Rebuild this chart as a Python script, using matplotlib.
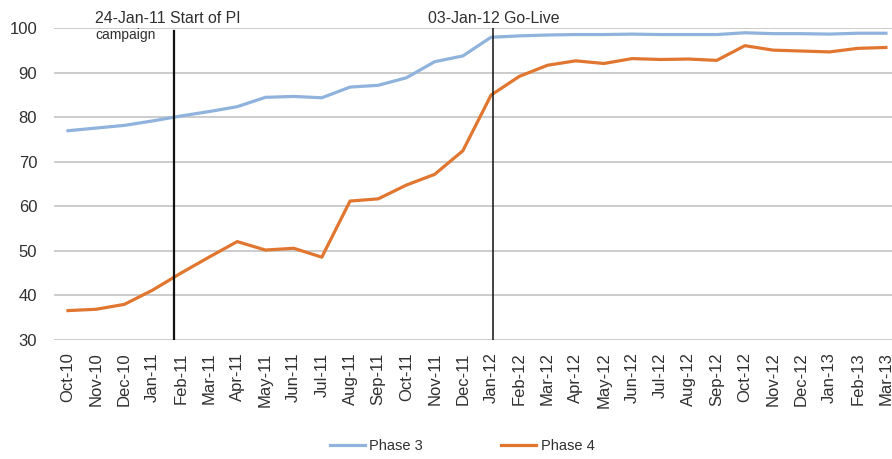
import numpy as np
import matplotlib.pyplot as plt
import matplotlib.transforms as mtransforms

plt.rcParams['font.family'] = ['Liberation Sans', 'DejaVu Sans']

months = ['Oct-10', 'Nov-10', 'Dec-10', 'Jan-11', 'Feb-11', 'Mar-11', 'Apr-11', 'May-11',
          'Jun-11', 'Jul-11', 'Aug-11', 'Sep-11', 'Oct-11', 'Nov-11', 'Dec-11', 'Jan-12',
          'Feb-12', 'Mar-12', 'Apr-12', 'May-12', 'Jun-12', 'Jul-12', 'Aug-12', 'Sep-12',
          'Oct-12', 'Nov-12', 'Dec-12', 'Jan-13', 'Feb-13', 'Mar-13']

phase3 = [77.0, 77.6, 78.2, 79.2, 80.3, 81.3, 82.4, 84.5, 84.7, 84.4,
          86.8, 87.2, 88.9, 92.5, 93.8, 98.0, 98.3, 98.5, 98.6, 98.6,
          98.7, 98.6, 98.6, 98.6, 99.0, 98.8, 98.8, 98.7, 98.9, 98.9]

phase4 = [36.6, 36.9, 38.0, 41.2, 45.0, 48.6, 52.1, 50.2, 50.6, 48.6,
          61.2, 61.7, 64.8, 67.2, 72.5, 85.0, 89.2, 91.7, 92.7, 92.1,
          93.2, 93.0, 93.1, 92.8, 96.1, 95.1, 94.9, 94.7, 95.5, 95.7]

# events: month index + fraction of month
event_labels = ['24-Jan-11 Start of PI', '03-Jan-12 Go-Live']
event_sub = ['campaign', '']
event_pos = [3 + 24 / 31, 15 + 2 / 31]

fig = plt.figure(figsize=(8.92, 4.59), dpi=100)
ax = fig.add_axes([0.0604, 0.2593, 0.9486, 0.679])

x = np.arange(len(months))
ax.plot(x, phase3, color='#8fb3dc', lw=2.3, label='Phase 3', solid_joinstyle='round')
ax.plot(x, phase4, color='#e0762f', lw=2.3, label='Phase 4', solid_joinstyle='round')

ax.set_ylim(30, 100)
ax.set_xlim(-0.5, len(months) - 0.5)
ax.set_yticks(range(30, 101, 10))
ax.yaxis.grid(True, color='#c4c4c4', lw=1.2)
ax.set_axisbelow(True)
for s in ax.spines.values():
    s.set_visible(False)

ax.set_xticks(x)
ax.set_xticklabels(months, rotation=90, fontsize=12, color='#303030')
ax.tick_params(axis='x', length=0, pad=9)
ax.tick_params(axis='y', length=0, pad=12, labelsize=12, labelcolor='#303030')

trans = mtransforms.blended_transform_factory(ax.transData, ax.transAxes)
label_shift = [-2.8, -2.31]
line_top = [0.992, 1.0]
line_w = [1.6, 1.1]
for i, pos in enumerate(event_pos):
    ax.axvline(pos, ymax=line_top[i], color='#111111', lw=line_w[i], zorder=3)
    ax.text(pos + label_shift[i], 1.033, event_labels[i], transform=trans, fontsize=11.4,
            color='#303030', ha='left', va='center', clip_on=False)
    if event_sub[i]:
        ax.text(pos + label_shift[i], 0.978, event_sub[i], transform=trans, fontsize=10,
                color='#303030', ha='left', va='center', clip_on=False)

fig.legend(loc='center', bbox_to_anchor=(0.518, 0.028), ncol=2, frameon=False,
           fontsize=10.5, handlelength=2.4, handletextpad=0.3, columnspacing=5.4,
           labelcolor='#303030')

fig.savefig('out.png', dpi=100)
